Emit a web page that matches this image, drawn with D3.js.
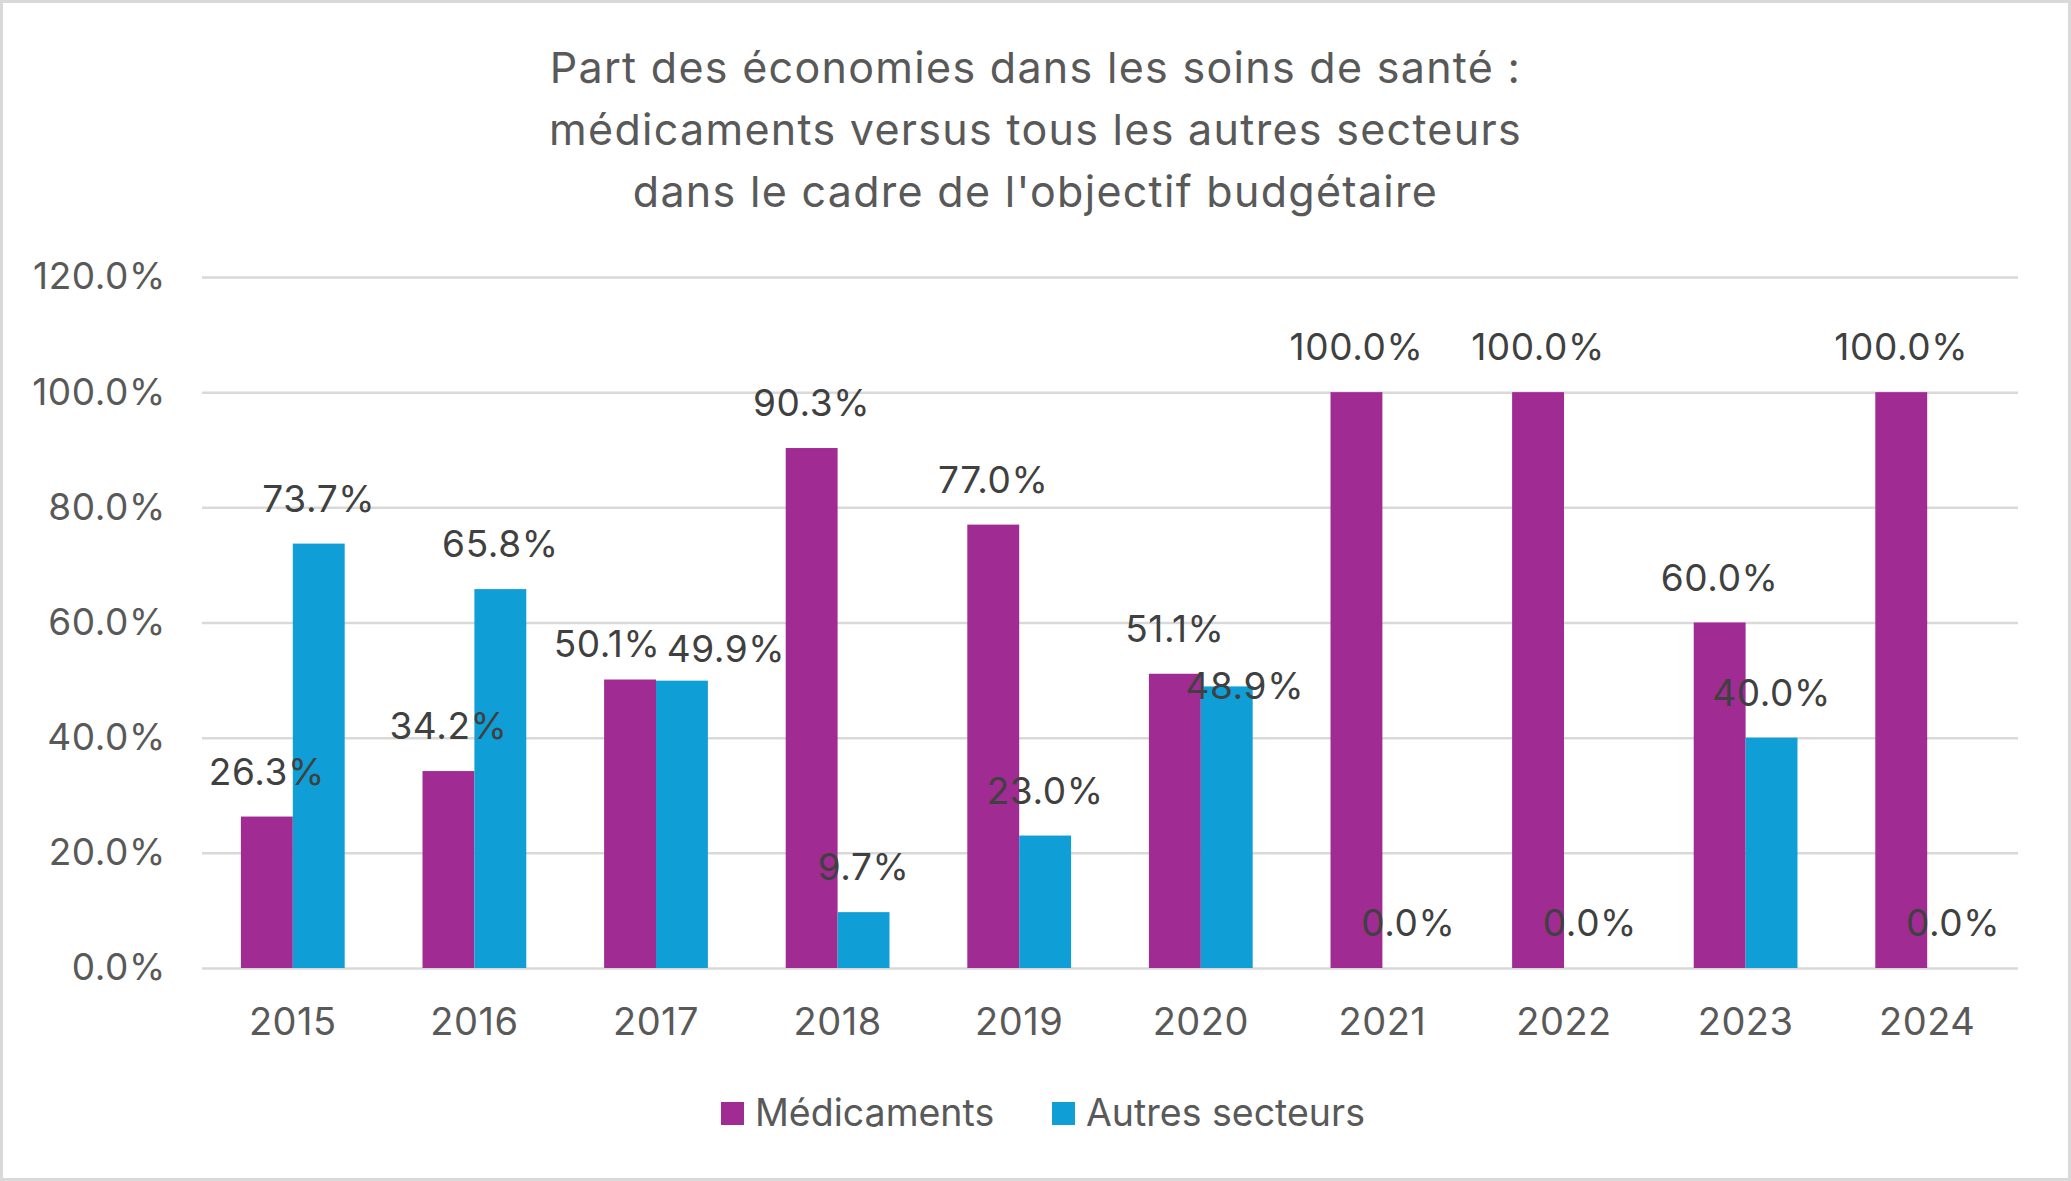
<!DOCTYPE html>
<html>
<head>
<meta charset="utf-8">
<script src="https://cdn.jsdelivr.net/npm/d3@7"></script>
<style>
  html, body { margin: 0; padding: 0; background: #fff; }
  svg { display: block; }
  text { font-family: Inter, "Open Sans", sans-serif; }
</style>
</head>
<body>
<svg id="chart" width="2071" height="1181"></svg>
<script>
// ---- data ----
const titleLines = [
  "Part des économies dans les soins de santé :",
  "médicaments versus tous les autres secteurs",
  "dans le cadre de l'objectif budgétaire"
];
const years = ["2015","2016","2017","2018","2019","2020","2021","2022","2023","2024"];
const seriesNames = ["Médicaments", "Autres secteurs"];
const medicaments = [0.263, 0.342, 0.501, 0.903, 0.770, 0.511, 1.000, 1.000, 0.600, 1.000];
const autres      = [0.737, 0.658, 0.499, 0.097, 0.230, 0.489, 0.000, 0.000, 0.400, 0.000];
const yTicks = [0, 0.2, 0.4, 0.6, 0.8, 1.0, 1.2];

// ---- layout / style ----
const W = 2071, H = 1181;
const plot = { left: 202, right: 2018, top: 277, bottom: 968 };
const colors = ["#A02B93", "#0F9ED5"];
// Excel's overlap adjustments for a few data labels: [dx, dy] in px
const labelNudge = { "2017-0": [-23, 9], "2017-1": [44, 13], "2020-1": [18, 45] };

const svg = d3.select("#chart");

// chart border
svg.append("rect")
  .attr("x", 1.5).attr("y", 1.5).attr("width", W - 3).attr("height", H - 3)
  .attr("fill", "#fff").attr("stroke", "#D9D9D9").attr("stroke-width", 3);

// title
svg.append("g").selectAll("text").data(titleLines).join("text")
  .attr("x", W / 2).attr("y", (d, i) => 83 + i * 62)
  .attr("text-anchor", "middle")
  .attr("font-size", 43).attr("letter-spacing", 1.3).attr("fill", "#595959")
  .text(d => d);

const x0 = d3.scaleBand().domain(years).range([plot.left, plot.right])
  .paddingInner(1.5 / 3.5).paddingOuter(0.75 / 3.5);
const x1 = d3.scaleBand().domain([0, 1]).range([0, x0.bandwidth()]);
const y = d3.scaleLinear().domain([0, 1.2]).range([plot.bottom, plot.top]);
const fmt = d3.format(".1%");

// gridlines + y tick labels
const yAxis = d3.axisLeft(y).tickValues(yTicks).tickFormat(fmt)
  .tickSize(-(plot.right - plot.left)).tickPadding(36);
const gy = svg.append("g").attr("transform", `translate(${plot.left},0)`).call(yAxis);
gy.select(".domain").remove();
gy.selectAll(".tick line").attr("stroke", "#D9D9D9").attr("stroke-width", 2.5);
gy.selectAll(".tick text").attr("font-size", 37).attr("letter-spacing", 0.6).attr("fill", "#595959")
  .attr("font-family", "Inter, sans-serif");

// x axis labels
const xAxis = d3.axisBottom(x0).tickSize(0).tickPadding(40);
const gx = svg.append("g").attr("transform", `translate(0,${plot.bottom})`).call(xAxis);
gx.select(".domain").remove();
gx.selectAll(".tick text").attr("font-size", 38).attr("letter-spacing", 0.5).attr("fill", "#595959")
  .attr("font-family", "Inter, sans-serif");

// bars
const rows = years.map((yr, i) => ({ year: yr, vals: [medicaments[i], autres[i]] }));
const groups = svg.append("g").selectAll("g").data(rows).join("g")
  .attr("transform", d => `translate(${x0(d.year)},0)`);
groups.selectAll("rect").data(d => d.vals.map((v, s) => ({ v, s, year: d.year }))).join("rect")
  .attr("x", d => x1(d.s)).attr("width", x1.bandwidth())
  .attr("y", d => y(d.v)).attr("height", d => y(0) - y(d.v))
  .attr("fill", d => colors[d.s]);

// data labels
const nudge = d => labelNudge[d.year + "-" + d.s] || [0, 0];
groups.selectAll("text").data(d => d.vals.map((v, s) => ({ v, s, year: d.year }))).join("text")
  .attr("x", d => x1(d.s) + x1.bandwidth() / 2 + nudge(d)[0])
  .attr("y", d => y(d.v) - 32 + nudge(d)[1])
  .attr("text-anchor", "middle")
  .attr("font-size", 37).attr("letter-spacing", 0.6).attr("fill", "#404040")
  .text(d => fmt(d.v));

// legend
const legend = svg.append("g");
const legendX = [721, 1052];
seriesNames.forEach((name, i) => {
  legend.append("rect").attr("x", legendX[i]).attr("y", 1102)
    .attr("width", 23).attr("height", 23).attr("fill", colors[i]);
  legend.append("text").attr("x", legendX[i] + 34).attr("y", 1126)
    .attr("font-size", 37.5).attr("fill", "#595959").text(name);
});
</script>
</body>
</html>
